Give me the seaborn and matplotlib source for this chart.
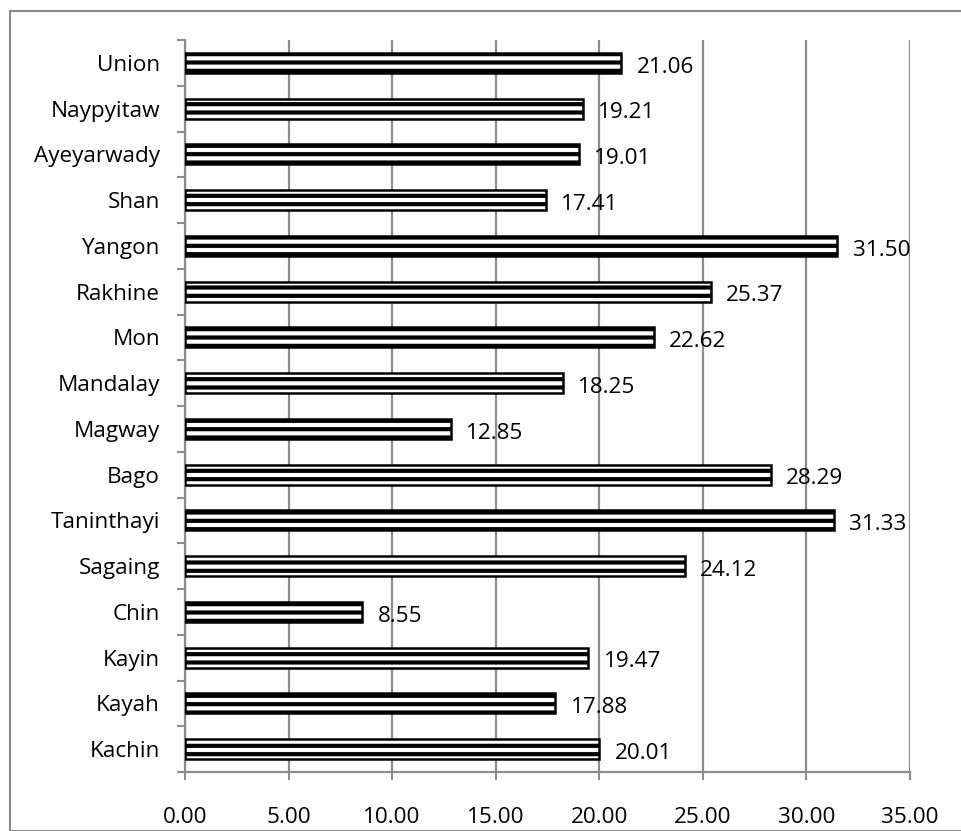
import matplotlib
matplotlib.use("Agg")
import matplotlib.pyplot as plt
import seaborn as sns
import pandas as pd
import numpy as np
from matplotlib.patches import Rectangle

# Regions listed top to bottom
regions = ["Union", "Naypyitaw", "Ayeyarwady", "Shan", "Yangon", "Rakhine", "Mon",
           "Mandalay", "Magway", "Bago", "Taninthayi", "Sagaing", "Chin", "Kayin",
           "Kayah", "Kachin"]
values = [21.06, 19.21, 19.01, 17.41, 31.50, 25.37, 22.62, 18.25, 12.85, 28.29,
          31.33, 24.12, 8.55, 19.47, 17.88, 20.01]
xticks = [0, 5, 10, 15, 20, 25, 30, 35]

df = pd.DataFrame({"region": regions, "value": values})

sns.set_theme(style="white")
plt.rcParams["font.family"] = ["Open Sans", "DejaVu Sans"]
plt.rcParams["hatch.linewidth"] = 3.0
plt.rcParams["hatch.color"] = "black"

W, H = 962, 831
fig = plt.figure(figsize=(W / 100, H / 100), dpi=100)
ax = fig.add_axes([185 / W, 1 - 772 / H, (910 - 185) / W, (772 - 40) / H])

grey = "#8c8c8c"
fs = 16.2

sns.barplot(data=df, x="value", y="region", order=regions, orient="h",
            color="white", edgecolor="black", linewidth=1.8, width=0.44,
            hatch="--", ax=ax, zorder=3)

ax.set_xlim(0, 35)
ax.set_ylim(len(regions) - 0.5, -0.5)
ax.set_xticks(xticks)
ax.set_xticklabels([f"{v:.2f}" for v in xticks], fontsize=fs, color="black")
ax.set_xlabel("")
ax.set_ylabel("")

# Category labels centred, tick marks on the category boundaries
ax.set_yticks(range(len(regions)))
ax.set_yticklabels(regions, fontsize=fs, color="black")
ax.set_yticks(np.arange(-0.5, len(regions), 1.0), minor=True)
ax.tick_params(axis="y", which="major", length=0, pad=18)
ax.tick_params(axis="y", which="minor", left=True, length=6, width=1.5, color=grey)
ax.tick_params(axis="x", which="major", bottom=True, length=6, width=1.5,
               color=grey, pad=19)

ax.grid(axis="x", color=grey, linewidth=1.6, zorder=0)
ax.grid(axis="y", visible=False)
ax.set_axisbelow(True)

for side in ["top", "right"]:
    ax.spines[side].set_visible(False)
for side in ["left", "bottom"]:
    ax.spines[side].set_color(grey)
    ax.spines[side].set_linewidth(1.6)

for i, v in enumerate(values):
    ax.annotate(f"{v:.2f}", xy=(v, i), xytext=(11, -3), textcoords="offset points",
                va="center", ha="left", fontsize=fs, color="black", zorder=4)

# Chart frame
fig.patches.append(Rectangle((10 / W, 0), 1.0, 1 - 11 / H, transform=fig.transFigure,
                             fill=False, edgecolor="#8a8a8a", linewidth=1.5))

fig.savefig("out.png", dpi=100, facecolor="white")
